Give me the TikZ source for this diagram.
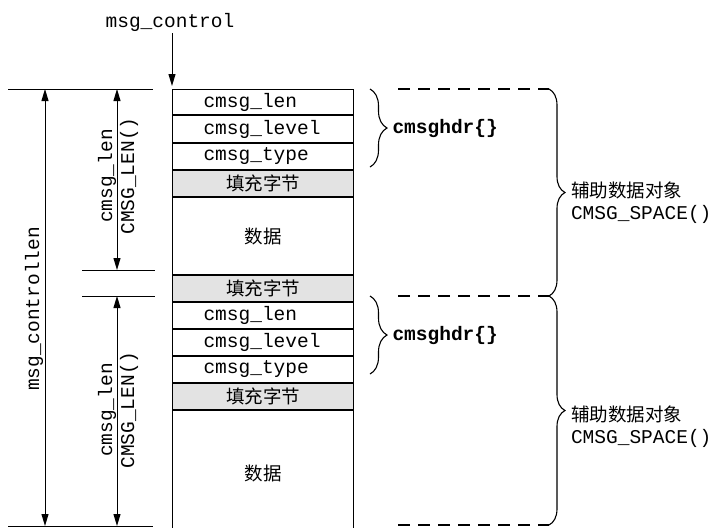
\documentclass[tikz,border=0pt]{standalone}
\usepackage{fontspec}
\setmonofont{Liberation Mono}
\newfontfamily\cjk{Noto Sans CJK SC}
\usetikzlibrary{arrows.meta,decorations.pathreplacing}
\newcommand{\monofs}{\ttfamily\fontsize{19.5}{22}\selectfont}
\newcommand{\cjkfs}{\cjk\fontsize{18.5}{22}\selectfont}
\begin{document}
\begin{tikzpicture}[x=1pt,y=-1pt,line width=1pt,
  cellbase/.style={draw,line width=1pt,minimum width=181pt,text width=119pt,inner xsep=31pt,inner ysep=0pt,anchor=north west},
  mcell/.style={cellbase,align=left,font=\monofs},
  ccell/.style={cellbase,align=center,font=\cjkfs},
  pcell/.style={ccell,fill=gray!22},
  arr/.style={-{Triangle[length=12pt,width=7pt]}},
  darr/.style={{Triangle[length=12pt,width=7pt]}-{Triangle[length=12pt,width=7pt]}},
  dashln/.style={dash pattern=on 12pt off 8pt,line width=1.1pt},
  bracedeco/.style={decorate,decoration={brace,amplitude=#1},line width=1.1pt},
  lbl/.style={font=\monofs,inner sep=0pt}
]
\useasboundingbox (0,0) rectangle (713,528);

% stacked cells
\node[mcell,minimum height=25pt] (r1) at (172,89) {cmsg\_len};
\node[mcell,minimum height=27pt] (r2) at (r1.south west) {cmsg\_level};
\node[mcell,minimum height=26pt] (r3) at (r2.south west) {cmsg\_type};
\node[pcell,minimum height=26pt] (r4) at (r3.south west) {填充字节};
\node[ccell,minimum height=77pt] (r5) at (r4.south west) {数据};
\node[pcell,minimum height=26pt] (r6) at (r5.south west) {填充字节};
\node[mcell,minimum height=26pt] (r7) at (r6.south west) {cmsg\_len};
\node[mcell,minimum height=26pt] (r8) at (r7.south west) {cmsg\_level};
\node[mcell,minimum height=26pt] (r9) at (r8.south west) {cmsg\_type};
\node[pcell,minimum height=26pt] (r10) at (r9.south west) {填充字节};
\node[ccell,minimum height=125pt] (r11) at (r10.south west) {数据};

% msg_control pointer
\node[lbl] (msgc) at (170,22) {msg\_control};
\coordinate (msgcs) at (172,33);
\draw[arr,shorten >=3pt] (msgcs) -- (r1.north west);

% left extension lines
\coordinate (tl) at (8,89);   \coordinate (tr) at (153,89);
\coordinate (bl) at (8,526);  \coordinate (br) at (153,526);
\coordinate (m1l) at (82,270); \coordinate (m1r) at (155,270);
\coordinate (m2l) at (82,296); \coordinate (m2r) at (155,296);
\draw (tl) -- (tr);
\draw (bl) -- (br);
\draw (m1l) -- (m1r);
\draw (m2l) -- (m2r);

% dimension arrows
\coordinate (a1t) at (45,89);  \coordinate (a1b) at (45,526);
\coordinate (a2t) at (117,89); \coordinate (a2b) at (117,270);
\coordinate (a3t) at (117,296); \coordinate (a3b) at (117,526);
\draw[darr] (a1t) -- (a1b);
\draw[darr] (a2t) -- (a2b);
\draw[darr] (a3t) -- (a3b);

\node[lbl,rotate=90] (mcl) at (34,309) {msg\_controllen};
\node[lbl,rotate=90,align=center] (cl1) at (118,176) {cmsg\_len\\CMSG\_LEN()};
\node[lbl,rotate=90,align=center] (cl2) at (118,410) {cmsg\_len\\CMSG\_LEN()};

% small braces (cmsghdr)
\coordinate (s1t) at (370,89);  \coordinate (s1b) at (370,167);
\coordinate (s2t) at (370,296); \coordinate (s2b) at (370,374);
\draw[bracedeco=17pt] (s1t) -- (s1b);
\draw[bracedeco=17pt] (s2t) -- (s2b);
\node[lbl,font=\monofs\bfseries,anchor=west] (h1) at (392,128) {cmsghdr\{\}};
\node[lbl,font=\monofs\bfseries,anchor=west] (h2) at (392,335) {cmsghdr\{\}};

% big braces (ancillary data object)
\coordinate (d1a) at (398,89);  \coordinate (b1t) at (549,89);
\coordinate (d2a) at (398,296); \coordinate (b1b) at (549,296);
\coordinate (d3a) at (398,525); \coordinate (b2b) at (549,525);
\draw[dashln] (d1a) -- (b1t);
\draw[dashln] (d2a) -- (b1b);
\draw[dashln] (d3a) -- (b2b);
\draw[bracedeco=16pt] (b1t) -- (b1b);
\draw[bracedeco=16pt] (b1b) -- (b2b);
\node[lbl,anchor=west,align=left] (o1) at (570.5,203) {{\cjkfs 辅助数据对象}\\CMSG\_SPACE()};
\node[lbl,anchor=west,align=left] (o2) at (570.5,427) {{\cjkfs 辅助数据对象}\\CMSG\_SPACE()};
\end{tikzpicture}
\end{document}
